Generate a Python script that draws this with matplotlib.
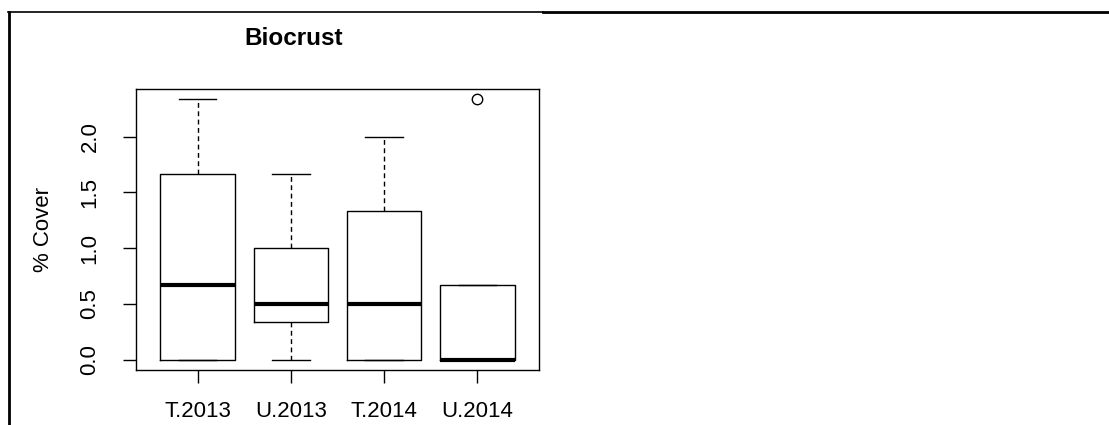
import matplotlib.pyplot as plt
from matplotlib.lines import Line2D

plt.rcParams['font.family'] = ['Liberation Sans', 'DejaVu Sans']

groups = ["T.2013", "U.2013", "T.2014", "U.2014"]
mins = [0.0, 0.0, 0.0, 0.0]
q1s = [0.0, 0.333, 0.0, 0.0]
medians = [0.667, 0.5, 0.5, 0.0]
q3s = [1.667, 1.0, 1.333, 0.667]
maxs = [2.333, 1.667, 2.0, 0.667]
outliers = [[], [], [], [2.333]]

stats = []
for g, lo, a, m, b, hi, fl in zip(groups, mins, q1s, medians, q3s, maxs, outliers):
    stats.append({"label": g, "whislo": lo, "q1": a, "med": m, "q3": b,
                  "whishi": hi, "fliers": fl})

fig = plt.figure(figsize=(11.09, 4.25), dpi=100)
ax = fig.add_axes([136 / 1109, 1 - 370 / 425, 403 / 1109, 281 / 425])

ax.bxp(stats, positions=[1, 2, 3, 4], widths=0.8,
       boxprops=dict(color="black", linewidth=1),
       medianprops=dict(color="black", linewidth=3, solid_capstyle="butt"),
       whiskerprops=dict(color="black", linewidth=1, linestyle=(0, (3.5, 2.5))),
       capprops=dict(color="black", linewidth=1),
       capwidths=0.4,
       flierprops=dict(marker="o", markerfacecolor="none", markeredgecolor="black",
                       markersize=7.5, markeredgewidth=1))

ax.set_xlim(0.34, 4.66)
ax.set_ylim(-0.093, 2.427)
ax.set_yticks([0.0, 0.5, 1.0, 1.5, 2.0])
ax.set_yticklabels(["0.0", "0.5", "1.0", "1.5", "2.0"], rotation=90, va="center")
ax.set_xticks([1, 2, 3, 4])
ax.set_xticklabels(groups)
ax.tick_params(axis="both", direction="out", length=9.5, width=1, labelsize=16)
ax.tick_params(axis="y", pad=16)
ax.tick_params(axis="x", pad=13)
for s in ax.spines.values():
    s.set_linewidth(1)
ax.set_ylabel("% Cover", fontsize=16)
ax.yaxis.set_label_coords(-0.203, 0.5)
ax.set_title("Biocrust", fontsize=17.5, fontweight="bold", pad=32, x=0.39)

# page frame lines
fig.add_artist(Line2D([8 / 1109, 543 / 1109], [1 - 12 / 425, 1 - 12 / 425], color="black", lw=1.2))
fig.add_artist(Line2D([543 / 1109, 1.0], [1 - 12 / 425, 1 - 12 / 425], color="black", lw=2))
fig.add_artist(Line2D([9 / 1109, 9 / 1109], [0, 1 - 12 / 425], color="black", lw=2))

fig.savefig("out.png", dpi=100)
